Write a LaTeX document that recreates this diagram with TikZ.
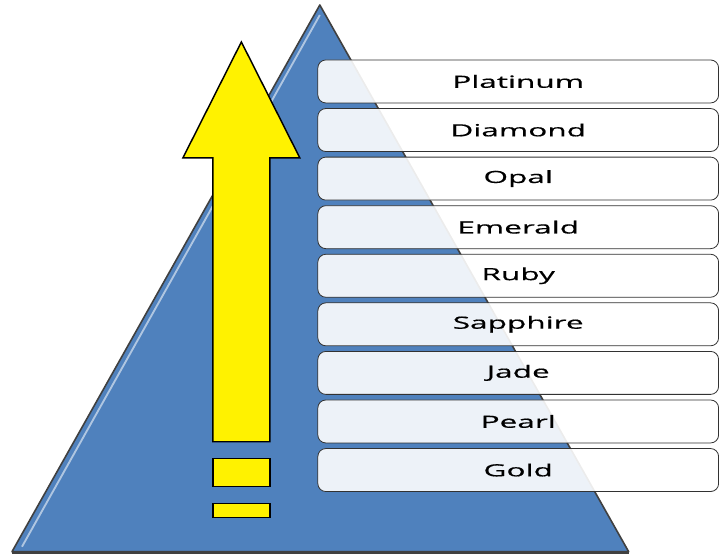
\documentclass[tikz,border=0pt]{standalone}
\usepackage{fontspec}
\newfontfamily\gemfont[FakeStretch=1.88,FakeBold=0.6]{Open Sans}
\usepackage{xcolor}
\definecolor{pyrblue}{RGB}{79,129,189}
\definecolor{pyredge}{RGB}{64,64,64}
\definecolor{boxedge}{RGB}{50,50,50}

\begin{document}
\begin{tikzpicture}[x=0.75pt,y=0.75pt,yscale=-1,xscale=1,
  gem/.style={draw=boxedge, line width=0.6pt, rounded corners=6pt, fill=white, fill opacity=0.9, text opacity=1,
    minimum width=300.75pt, minimum height=32.25pt, inner sep=0pt, font=\gemfont\fontsize{12.6}{14}\selectfont},
  bar/.style={draw=black, line width=1.1pt, fill=yellow}]
\path (0,0) rectangle (719,556); %set diagram size

%Pyramid
\draw [fill=pyrblue, draw=pyredge, line width=1.2pt, line join=round] (12,552) -- (320,5) -- (629,552) -- cycle ;
\draw [color=white, draw opacity=0.55, line width=1.4pt] (22,547) -- (320,15) ;
\draw [color=pyredge, line width=2pt] (12,553) -- (629,553) ;

%Arrow
\draw [bar] (213,442) -- (213,158) -- (183,158) -- (241.5,42) -- (300,158) -- (270,158) -- (270,442) -- cycle ;
%Bars
\draw [bar] (213,459) rectangle (270,487) ;
\draw [bar] (213,504) rectangle (270,518) ;

% Text Node
\node [gem] (platinum) at (518.5,81.5) {Platinum};
% Text Node
\node [gem] (diamond) at (518.5,130.1) {Diamond};
% Text Node
\node [gem] (opal) at (518.5,178.7) {Opal};
% Text Node
\node [gem] (emerald) at (518.5,227.3) {Emerald};
% Text Node
\node [gem] (ruby) at (518.5,275.9) {Ruby};
% Text Node
\node [gem] (sapphire) at (518.5,324.5) {Sapphire};
% Text Node
\node [gem] (jade) at (518.5,373.1) {Jade};
% Text Node
\node [gem] (pearl) at (518.5,421.7) {Pearl};
% Text Node
\node [gem] (gold) at (518.5,470.3) {Gold};

\end{tikzpicture}
\end{document}
